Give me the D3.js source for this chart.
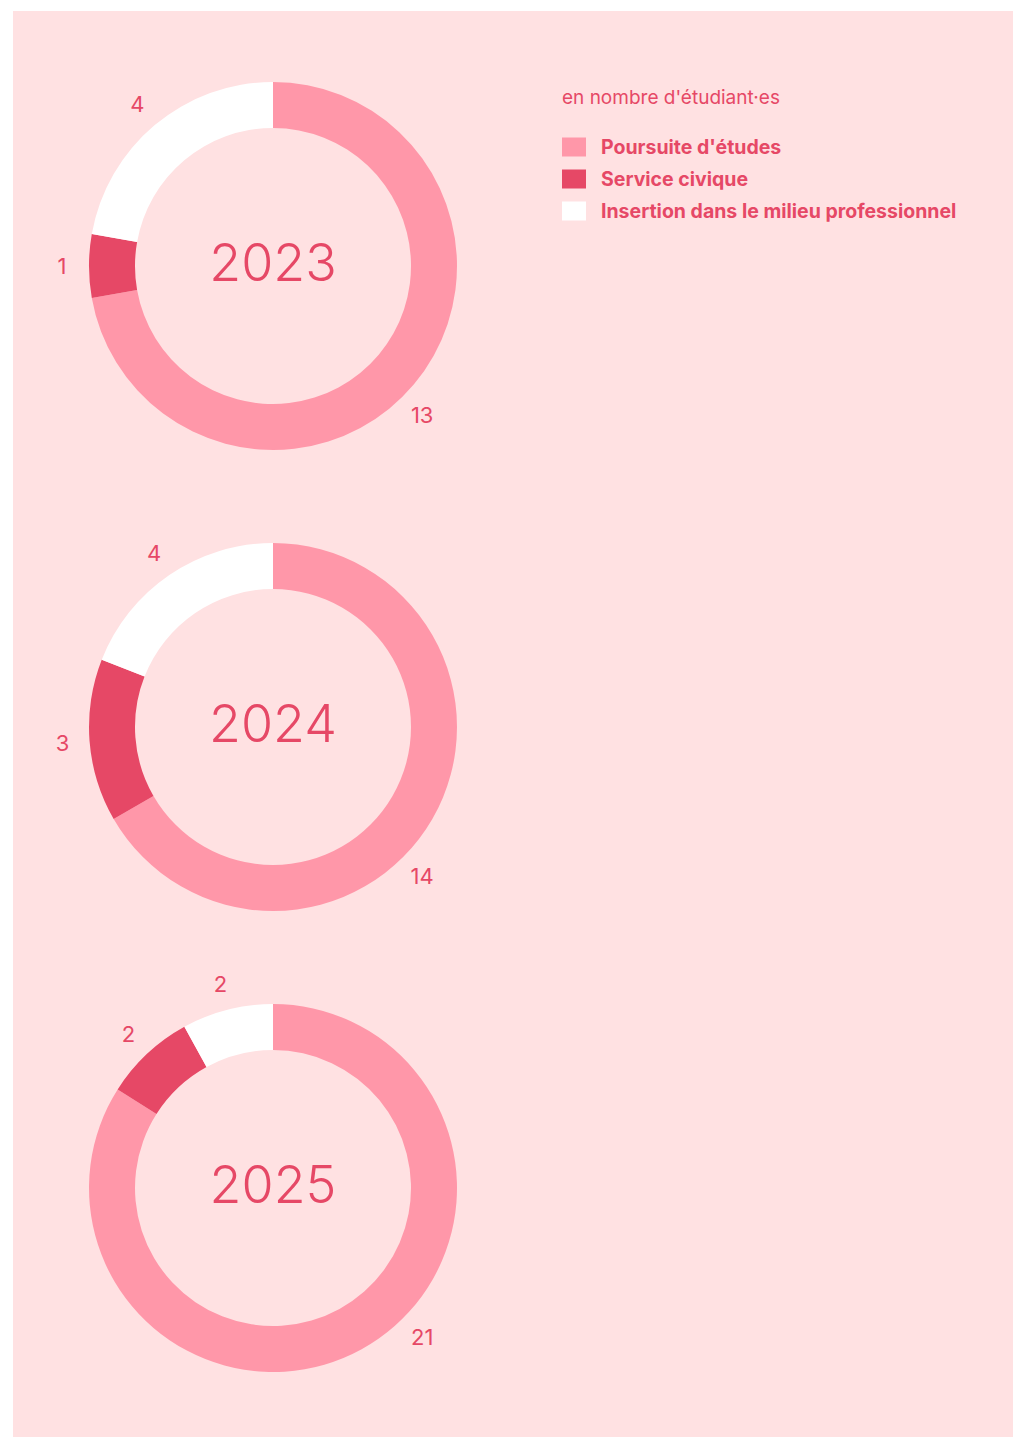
<!DOCTYPE html>
<html>
<head>
<meta charset="utf-8">
<script src="https://cdn.jsdelivr.net/npm/d3@7"></script>
<style>
  body { margin: 0; background: #fff; overflow: hidden; }
  svg { display: block; }
  text { font-family: Inter, "Open Sans", sans-serif; }
</style>
</head>
<body>
<script>
let years = ['2023', '2024', '2025'];
let categories = ['Poursuite d\'études', 'Service civique', 'Insertion dans le milieu professionnel'];
let poursuite = [13, 14, 21];
let serviceCivique = [1, 3, 2];
let insertion = [4, 4, 2];
let colors = ['#ff97a9', '#e64866', '#ffffff'];

let width = 1013, height = 1437;
let textColor = '#e64866';

let svg = d3.select('body').append('svg')
    .attr('width', width)
    .attr('height', height);

svg.append('rect')
    .attr('x', 13).attr('y', 11)
    .attr('width', width - 13).attr('height', height - 11)
    .style('fill', '#ffe1e2');

let outerR = 184, innerR = 138, labelR = 211;

let yScale = d3.scalePoint()
    .domain(years)
    .range([266, 1188]);

let pie = d3.pie().sort(null).value(d => d);
let arc = d3.arc().innerRadius(innerR).outerRadius(outerR);

// first (biggest) label sits bottom right, the others in the middle of their slice
function labelAngle(d, j) {
    return j === 0 ? Math.PI * 3 / 4 : (d.startAngle + d.endAngle) / 2;
}

years.forEach((year, i) => {
    let values = [poursuite[i], serviceCivique[i], insertion[i]];
    let g = svg.append('g')
        .attr('transform', 'translate(273,' + yScale(year) + ')');

    let arcs = pie(values);

    g.selectAll('.slice').data(arcs).enter().append('path')
        .attr('class', 'slice')
        .attr('d', arc)
        .style('fill', (d, j) => colors[j]);

    g.selectAll('.value').data(arcs).enter().append('text')
        .attr('class', 'value')
        .attr('x', (d, j) => Math.sin(labelAngle(d, j)) * labelR)
        .attr('y', (d, j) => -Math.cos(labelAngle(d, j)) * labelR)
        .attr('dy', '0.36em')
        .attr('text-anchor', 'middle')
        .style('font-size', '22px')
        .style('fill', textColor)
        .text(d => d.data);

    g.append('text')
        .attr('x', 0).attr('y', -4)
        .attr('dy', '0.36em')
        .attr('text-anchor', 'middle')
        .style('font-size', '52px')
        .style('font-weight', 300)
        .style('fill', textColor)
        .text(year);
});

// legend
let legend = svg.append('g').attr('transform', 'translate(562,0)');
legend.append('text')
    .attr('x', 0).attr('y', 104)
    .style('font-size', '19px')
    .style('fill', textColor)
    .text('en nombre d\'étudiant·es');

let rows = legend.selectAll('.row').data(categories).enter().append('g')
    .attr('class', 'row')
    .attr('transform', (d, i) => 'translate(0,' + (147 + i * 32) + ')');
rows.append('rect')
    .attr('x', 0).attr('y', -9.5)
    .attr('width', 24).attr('height', 19)
    .style('fill', (d, i) => colors[i]);
rows.append('text')
    .attr('x', 39).attr('y', 0)
    .attr('dy', '0.36em')
    .style('font-size', '19.5px')
    .style('font-weight', 'bold')
    .style('fill', textColor)
    .text(d => d);
</script>
</body>
</html>
